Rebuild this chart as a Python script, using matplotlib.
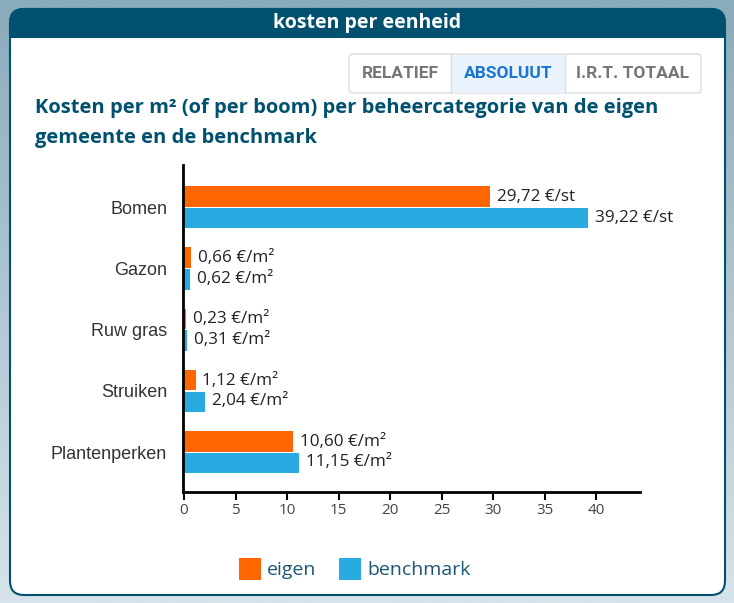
import numpy as np
import matplotlib.pyplot as plt
from matplotlib.patches import FancyBboxPatch, Rectangle
from matplotlib.colors import LinearSegmentedColormap

categories = ["Bomen", "Gazon", "Ruw gras", "Struiken", "Plantenperken"]
eigen = [29.72, 0.66, 0.23, 1.12, 10.60]
benchmark = [39.22, 0.62, 0.31, 2.04, 11.15]
units = ["€/st", "€/m²", "€/m²", "€/m²", "€/m²"]
series_names = ["eigen", "benchmark"]
xticks = [0, 5, 10, 15, 20, 25, 30, 35, 40]
buttons = ["RELATIEF", "ABSOLUUT", "I.R.T. TOTAAL"]

ORANGE = "#ff6600"
BLUE = "#29abe2"
TEAL = "#00516f"

W, H = 734, 603
fig = plt.figure(figsize=(W / 100, H / 100), dpi=100)

# background + card in pixel coordinates
bg = fig.add_axes([0, 0, 1, 1])
bg.set_xlim(0, W)
bg.set_ylim(H, 0)
bg.axis("off")
grad = np.linspace(0, 1, 256).reshape(-1, 1)
cmap = LinearSegmentedColormap.from_list("bg", ["#8aabbb", "#d6e3ea"])
bg.imshow(grad, cmap=cmap, extent=[0, W, H, 0], aspect="auto", zorder=0)

card = FancyBboxPatch((10, 9), 715, 586, boxstyle="round,pad=0,rounding_size=14",
                      facecolor="white", edgecolor=TEAL, linewidth=1.5, zorder=1)
bg.add_patch(card)
header = FancyBboxPatch((10, 9), 715, 40, boxstyle="round,pad=0,rounding_size=14",
                        facecolor=TEAL, edgecolor=TEAL, linewidth=1.5, zorder=2)
bg.add_patch(header)
bg.add_patch(Rectangle((10.5, 30), 714, 8, facecolor=TEAL, edgecolor="none", zorder=2))
bg.add_patch(Rectangle((11, 38), 713, 14, facecolor="white", edgecolor="none", zorder=2))
bg.text(367, 23, "kosten per eenheid", color="white", fontsize=14, fontweight="bold",
        family="Open Sans", ha="center", va="center", zorder=3)

# toggle buttons
edges = [349, 451, 565, 701]
bg.add_patch(FancyBboxPatch((349, 54), 352, 39, boxstyle="round,pad=0,rounding_size=4",
                            facecolor="white", edgecolor="#d8dde2", linewidth=1, zorder=3))
bg.add_patch(Rectangle((451, 54.5), 114, 38, facecolor="#eaf3fc", edgecolor="none", zorder=3))
for e in edges[1:3]:
    bg.plot([e, e], [54.5, 92.5], color="#d8dde2", lw=1, zorder=4)
for i, b in enumerate(buttons):
    bg.text((edges[i] + edges[i + 1]) / 2, 74, b, fontsize=12.5, fontweight="bold",
            family="Roboto", color="#1976d2" if i == 1 else "#757575",
            ha="center", va="center", zorder=5)

bg.text(35, 108, "Kosten per m² (of per boom) per beheercategorie van de eigen",
        fontsize=14.5, fontweight="bold", family="Open Sans", color=TEAL, va="center", zorder=5)
bg.text(35, 138, "gemeente en de benchmark",
        fontsize=14.5, fontweight="bold", family="Open Sans", color=TEAL, va="center", zorder=5)

# legend
for x0, name, col in [(239, series_names[0], ORANGE), (339, series_names[1], BLUE)]:
    bg.add_patch(Rectangle((x0, 558), 22, 22, facecolor=col, edgecolor="none", zorder=5))
    bg.text(x0 + 28, 570, name, fontsize=14, family="Open Sans", color="#1b5676",
            va="center", zorder=5)

# chart axes
x0_px, x1_px, ppu = 182.5, 640, 10.3
ax = fig.add_axes([x0_px / W, 1 - 492 / H, (x1_px - x0_px) / W, (492 - 165) / H])
ax.set_facecolor("none")
y = np.arange(len(categories))
h = 0.335
ax.barh(y - h / 2 - 0.01, eigen, height=h, color=ORANGE, linewidth=0)
ax.barh(y + h / 2 + 0.01, benchmark, height=h, color=BLUE, linewidth=0)
for i in range(len(categories)):
    for v, off in [(eigen[i], -h / 2), (benchmark[i], h / 2)]:
        lab = f"{v:.2f}".replace(".", ",") + " " + units[i]
        ax.annotate(lab, (v, y[i] + off), xytext=(5, 0), textcoords="offset points",
                    fontsize=12.3, family="Open Sans", color="#222222", va="center")
ax.set_xlim(-(184 - x0_px) / ppu, (x1_px - 184) / ppu)
ax.set_ylim(4.65, -0.69)
ax.set_xticks(xticks)
ax.set_xticklabels([str(t) for t in xticks], fontsize=11, family="Open Sans", color="#444444")
ax.set_yticks(y)
ax.set_yticklabels(categories, fontsize=13, family="Liberation Sans", color="#333333")
ax.tick_params(axis="y", length=0, pad=11)
ax.tick_params(axis="x", length=6, width=1.5, color="black", pad=2)
for s in ["top", "right"]:
    ax.spines[s].set_visible(False)
for s in ["left", "bottom"]:
    ax.spines[s].set_linewidth(2)
    ax.spines[s].set_color("black")

fig.savefig("out.png", dpi=100)
